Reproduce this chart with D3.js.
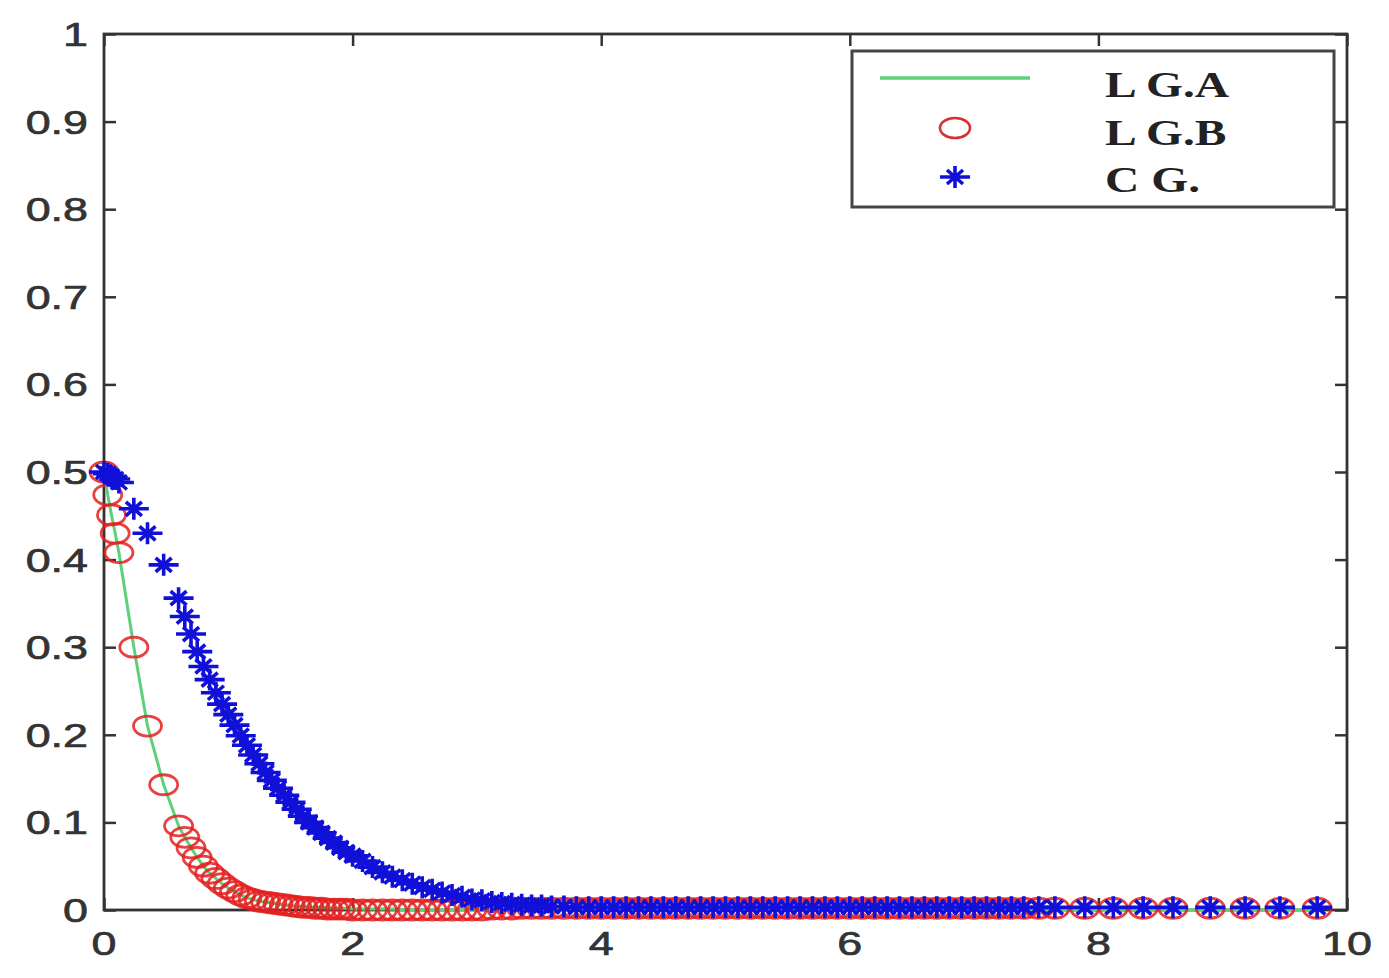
<!DOCTYPE html>
<html>
<head>
<meta charset="utf-8">
<script src="https://cdn.jsdelivr.net/npm/d3@7"></script>
<style>
  body { margin: 0; background: #fff; }
  svg { display: block; }
</style>
</head>
<body>
<svg id="chart" width="1389" height="978"></svg>
<script>
// shared grid of abscissas
var xs = [0, 0.03, 0.06, 0.09, 0.12, 0.24, 0.35, 0.48, 0.60,
  0.65, 0.70, 0.75, 0.80, 0.85, 0.90, 0.95, 1.00, 1.05, 1.10, 1.15, 1.20, 1.25, 1.30, 1.35,
  1.40, 1.45, 1.50, 1.55, 1.60, 1.65, 1.70, 1.75, 1.80, 1.85, 1.90, 1.95, 2.00,
  2.08, 2.16, 2.24, 2.32, 2.40, 2.48, 2.56, 2.64, 2.72, 2.80, 2.88, 2.96, 3.04, 3.12,
  3.20, 3.28, 3.36, 3.44, 3.52, 3.60, 3.70, 3.80, 3.90, 4.00,
  4.10, 4.20, 4.30, 4.40, 4.50, 4.60, 4.70, 4.80, 4.90, 5.00, 5.10, 5.20, 5.30, 5.40,
  5.50, 5.60, 5.70, 5.80, 5.90, 6.00, 6.10, 6.20, 6.30, 6.40, 6.50, 6.60, 6.70, 6.80,
  6.90, 7.00, 7.10, 7.20, 7.30, 7.40, 7.52,
  7.65, 7.89, 8.12, 8.36, 8.60, 8.90, 9.18, 9.46, 9.76];

// L G.A (line) and L G.B (circles) nearly coincide
var lgA = [0.500, 0.474, 0.451, 0.430, 0.408, 0.300, 0.210, 0.143, 0.096,
  0.083, 0.071, 0.060, 0.050, 0.042, 0.036, 0.030, 0.025, 0.021, 0.017, 0.014, 0.012, 0.010, 0.009, 0.008,
  0.007, 0.006, 0.005, 0.004, 0.004, 0.003, 0.003, 0.003, 0.002, 0.002, 0.002, 0.002, 0.001,
  0.001, 0.001, 0.001, 0.001, 0.000, 0.000, 0.000, 0.000, 0.000, 0.000, 0.000, 0.000, 0.000, 0.000,
  0.000, 0.000, 0.000, 0.000, 0.000, 0.000, 0.000, 0.000, 0.000, 0.000,
  0.000, 0.000, 0.000, 0.000, 0.000, 0.000, 0.000, 0.000, 0.000, 0.000, 0.000, 0.000, 0.000, 0.000,
  0.000, 0.000, 0.000, 0.000, 0.000, 0.000, 0.000, 0.000, 0.000, 0.000, 0.000, 0.000, 0.000, 0.000,
  0.000, 0.000, 0.000, 0.000, 0.000, 0.000, 0.000,
  0.000, 0.000, 0.000, 0.000, 0.000, 0.000, 0.000, 0.000, 0.000];

var lgB = [0.500, 0.474, 0.451, 0.430, 0.408, 0.300, 0.210, 0.143, 0.096,
  0.083, 0.071, 0.060, 0.050, 0.042, 0.036, 0.030, 0.025, 0.021, 0.017, 0.014, 0.012, 0.010, 0.009, 0.008,
  0.007, 0.006, 0.005, 0.004, 0.003, 0.003, 0.002, 0.002, 0.001, 0.001, 0.001, 0.001, 0.000,
  0.000, 0.000, 0.000, 0.000, 0.000, 0.000, 0.000, 0.000, 0.000, 0.000, 0.000, 0.000, 0.000, 0.001,
  0.001, 0.001, 0.002, 0.002, 0.002, 0.002, 0.002, 0.002, 0.002, 0.002,
  0.002, 0.002, 0.002, 0.002, 0.002, 0.002, 0.002, 0.002, 0.002, 0.002, 0.002, 0.002, 0.002, 0.002,
  0.002, 0.002, 0.002, 0.002, 0.002, 0.002, 0.002, 0.002, 0.002, 0.002, 0.002, 0.002, 0.002, 0.002,
  0.002, 0.002, 0.002, 0.002, 0.002, 0.002, 0.002,
  0.002, 0.002, 0.002, 0.002, 0.002, 0.002, 0.002, 0.002, 0.002];

var cg = [0.500, 0.498, 0.495, 0.492, 0.488, 0.458, 0.430, 0.394, 0.356,
  0.335, 0.315, 0.295, 0.278, 0.263, 0.248, 0.235, 0.223, 0.211, 0.199, 0.188, 0.177, 0.167, 0.157, 0.148,
  0.139, 0.131, 0.123, 0.115, 0.107, 0.100, 0.094, 0.088, 0.082, 0.077, 0.071, 0.066, 0.062,
  0.056, 0.049, 0.043, 0.038, 0.034, 0.030, 0.026, 0.023, 0.020, 0.017, 0.015, 0.012, 0.011, 0.009,
  0.008, 0.007, 0.006, 0.005, 0.005, 0.004, 0.004, 0.003, 0.003, 0.003,
  0.003, 0.003, 0.003, 0.003, 0.003, 0.003, 0.003, 0.003, 0.003, 0.003, 0.003, 0.003, 0.003, 0.003,
  0.003, 0.003, 0.003, 0.003, 0.003, 0.003, 0.003, 0.003, 0.003, 0.003, 0.003, 0.003, 0.003, 0.003,
  0.003, 0.003, 0.003, 0.003, 0.003, 0.003, 0.003,
  0.003, 0.003, 0.003, 0.003, 0.003, 0.003, 0.003, 0.003, 0.003];

var xTicks = [0, 2, 4, 6, 8, 10];
var yTicks = [0, 0.1, 0.2, 0.3, 0.4, 0.5, 0.6, 0.7, 0.8, 0.9, 1];
var legendNames = ["L G.A", "L G.B", "C G."];

var svg = d3.select("#chart");
var padL = 104, padR = 1347, padT = 34, padB = 910;

var x = d3.scaleLinear().domain([0, 10]).range([padL, padR]);
var y = d3.scaleLinear().domain([0, 1]).range([padB, padT]);

var ink = "#333";
var stretch = 1.32; // the source picture is squashed wide

// ticks pointing inward on all four sides
svg.append("g").attr("transform", "translate(0," + padB + ")")
	.call(d3.axisBottom(x).tickValues(xTicks).tickSize(-12).tickFormat(""));
svg.append("g").attr("transform", "translate(0," + padT + ")")
	.call(d3.axisTop(x).tickValues(xTicks).tickSize(-12).tickFormat(""));
svg.append("g").attr("transform", "translate(" + padL + ",0)")
	.call(d3.axisLeft(y).tickValues(yTicks).tickSize(-12).tickFormat(""));
svg.append("g").attr("transform", "translate(" + padR + ",0)")
	.call(d3.axisRight(y).tickValues(yTicks).tickSize(-12).tickFormat(""));
svg.selectAll(".domain").remove();
svg.selectAll(".tick line").attr("stroke", ink).attr("stroke-width", 2.5);

svg.append("rect")
	.attr("x", padL).attr("y", padT)
	.attr("width", padR - padL).attr("height", padB - padT)
	.attr("fill", "none").attr("stroke", ink).attr("stroke-width", 2.8);

// tick labels
svg.selectAll(".ylab").data(yTicks).enter().append("text")
	.attr("class", "ylab")
	.attr("transform", function(d) { return "translate(88," + (y(d) + 12) + ") scale(" + stretch + ",1)"; })
	.attr("text-anchor", "end")
	.style("font-family", "Liberation Sans, Arial, sans-serif")
	.style("font-size", "34px")
	.style("fill", ink)
	.style("stroke", ink).style("stroke-width", 0.7)
	.text(function(d) { return d; });

svg.selectAll(".xlab").data(xTicks).enter().append("text")
	.attr("class", "xlab")
	.attr("transform", function(d) { return "translate(" + x(d) + ",955) scale(" + stretch + ",1)"; })
	.attr("text-anchor", "middle")
	.style("font-family", "Liberation Sans, Arial, sans-serif")
	.style("font-size", "34px")
	.style("fill", ink)
	.style("stroke", ink).style("stroke-width", 0.7)
	.text(function(d) { return d; });

var plot = svg.append("g");

var rows = xs.map(function(v, i) { return {x: v, a: lgA[i], b: lgB[i], c: cg[i]}; });

var line = d3.line()
	.x(function(d) { return x(d.x); })
	.y(function(d) { return y(d.a); });

plot.append("path")
	.datum(rows)
	.attr("d", line)
	.attr("fill", "none")
	.attr("stroke", "#5fd07a")
	.attr("stroke-width", 3);

plot.selectAll(".ring").data(rows).enter().append("ellipse")
	.attr("class", "ring")
	.attr("cx", function(d) { return x(d.x); })
	.attr("cy", function(d) { return y(d.b); })
	.attr("rx", 14).attr("ry", 10)
	.attr("fill", "none")
	.attr("stroke", "#e42020")
	.attr("stroke-opacity", 0.85)
	.attr("stroke-width", 2.8);

// matlab '*' marker, wide because of the stretch
var starPath = "M-15,0H15M0,-11V11M-8,-7L8,7M-8,7L8,-7";

plot.selectAll(".star").data(rows).enter().append("path")
	.attr("class", "star")
	.attr("transform", function(d) { return "translate(" + x(d.x) + "," + y(d.c) + ")"; })
	.attr("d", starPath)
	.attr("fill", "none")
	.attr("stroke", "#1010d8")
	.attr("stroke-width", 3.6);

// legend
var lg = svg.append("g");
lg.append("rect")
	.attr("x", 852).attr("y", 51)
	.attr("width", 482).attr("height", 156)
	.attr("fill", "#fff")
	.attr("stroke", "#444").attr("stroke-width", 3);

lg.append("line")
	.attr("x1", 880).attr("x2", 1030).attr("y1", 78).attr("y2", 78)
	.attr("stroke", "#5fd07a").attr("stroke-width", 3.5);
lg.append("ellipse")
	.attr("cx", 955).attr("cy", 128).attr("rx", 15).attr("ry", 10)
	.attr("fill", "none").attr("stroke", "#d83030").attr("stroke-width", 2.6);
lg.append("path")
	.attr("transform", "translate(955,177)")
	.attr("d", starPath)
	.attr("fill", "none").attr("stroke", "#1010d8").attr("stroke-width", 3.6);

lg.selectAll(".lgtext").data(legendNames).enter().append("text")
	.attr("class", "lgtext")
	.attr("transform", function(d, i) { return "translate(1105," + (97 + i * 47.5) + ") scale(" + stretch + ",1)"; })
	.style("font-family", "Liberation Serif, Times New Roman, serif")
	.style("font-size", "36px")
	.style("font-weight", "bold")
	.style("fill", "#222")
	.text(function(d) { return d; });
</script>
</body>
</html>
